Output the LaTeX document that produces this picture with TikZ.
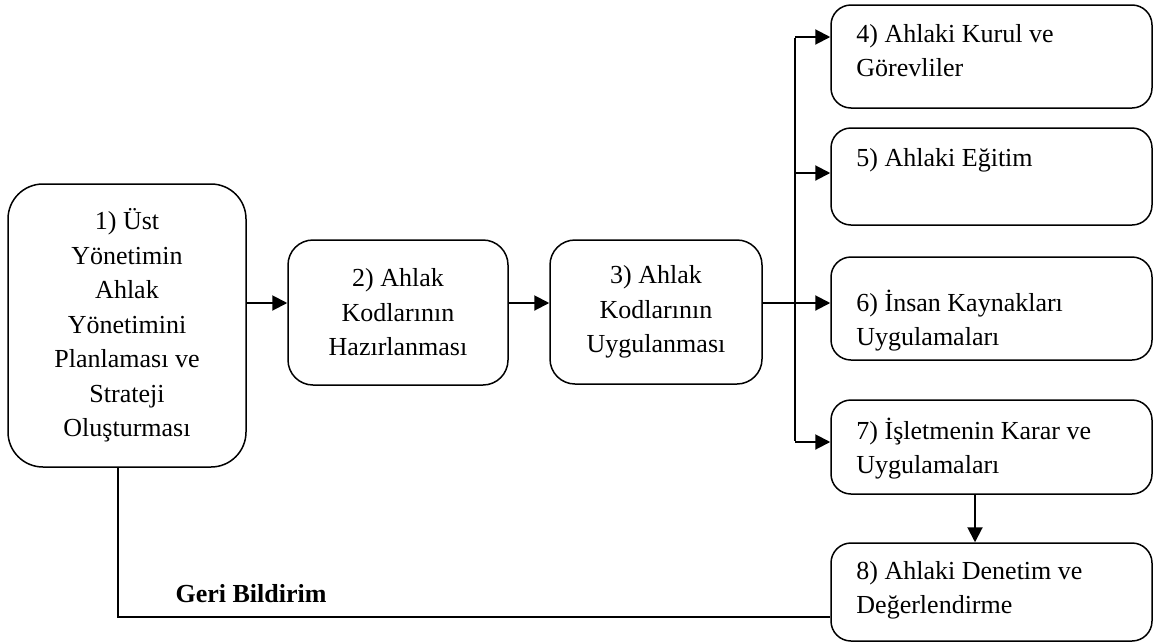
\documentclass[tikz,border=0pt]{standalone}
\usepackage{fontspec}
\setmainfont{Liberation Serif}
\usetikzlibrary{arrows.meta}
\begin{document}
\begin{tikzpicture}[x=1pt,y=-1pt,
  box/.style={draw, line width=1.5pt, rounded corners=#1, inner sep=0pt},
  box/.default=20pt,
  txt/.style={font=\fontsize{26}{34.5}\selectfont, align=center},
  ltxt/.style={font=\fontsize{26}{34.5}\selectfont, inner sep=0pt, align=left, anchor=base west},
  link/.style={line width=2pt, -{Triangle[length=15pt,width=15pt]}},
  plain/.style={line width=2pt}]
\useasboundingbox (0,0) rectangle (1156,643);

% main process boxes
\node[box=35pt, txt, minimum width=238pt, minimum height=283pt] (b1) at (127,325.5)
  {1) Üst\\Yönetimin\\Ahlak\\Yönetimini\\Planlaması ve\\Strateji\\Oluşturması};
\node[box=25pt, txt, minimum width=220pt, minimum height=145pt] (b2) at (398,312.5)
  {2) Ahlak\\Kodlarının\\Hazırlanması};
\node[box=25pt, txt, minimum width=212pt, minimum height=144pt] (b3) at (656,312)
  {3) Ahlak\\Kodlarının\\Uygulanması};

% implementation boxes on the right
\node[box, minimum width=321pt, minimum height=103pt] (b4) at (991.5,56.5) {};
\node[box, minimum width=321pt, minimum height=97pt]  (b5) at (991.5,176.5) {};
\node[box, minimum width=321pt, minimum height=103pt] (b6) at (991.5,308.5) {};
\node[box, minimum width=321pt, minimum height=94pt]  (b7) at (991.5,447) {};
\node[box, minimum width=321pt, minimum height=98pt]  (b8) at (991.5,592) {};

% box texts (base anchor sits on the last line)
\node[ltxt] (t4) at ([shift={(26,72.5)}]b4.north west) {4) Ahlaki Kurul ve\\Görevliler};
\node[ltxt] (t5) at ([shift={(26,39)}]b5.north west) {5) Ahlaki Eğitim};
\node[ltxt] (t6) at ([shift={(26,89.5)}]b6.north west) {6) İnsan Kaynakları\\Uygulamaları};
\node[ltxt] (t7) at ([shift={(26,74.5)}]b7.north west) {7) İşletmenin Karar ve\\Uygulamaları};
\node[ltxt] (t8) at ([shift={(26,71.5)}]b8.north west) {8) Ahlaki Denetim ve\\Değerlendirme};

% routing points
\coordinate (row) at (0,303);
\coordinate (a4) at (795,37);
\coordinate (a5) at (795,173);
\coordinate (a7) at (795,442);
\coordinate (down) at (975,0);
\coordinate (fb) at (118,617);

% main flow
\draw[link] (b1.east |- row) -- (b2.west |- row);
\draw[link] (b2.east |- row) -- (b3.west |- row);
\draw[link] (b3.east |- row) -- (b6.west |- row);

% distribution trunk
\draw[plain] ([yshift=-1pt]a4) -- ([yshift=1pt]a7);
\draw[link] (a4) -- (b4.west |- a4);
\draw[link] (a5) -- (b5.west |- a5);
\draw[link] (a7) -- (b7.west |- a7);

% decisions to audit
\draw[link] (b7.south -| down) -- (b8.north -| down);

% feedback loop
\draw[plain] (b1.south -| fb) -- (fb) -- (b8.west |- fb);
\node[font=\fontsize{26}{30}\selectfont\bfseries, anchor=base, inner sep=0pt] (gb) at (251,602) {Geri Bildirim};
\end{tikzpicture}
\end{document}
